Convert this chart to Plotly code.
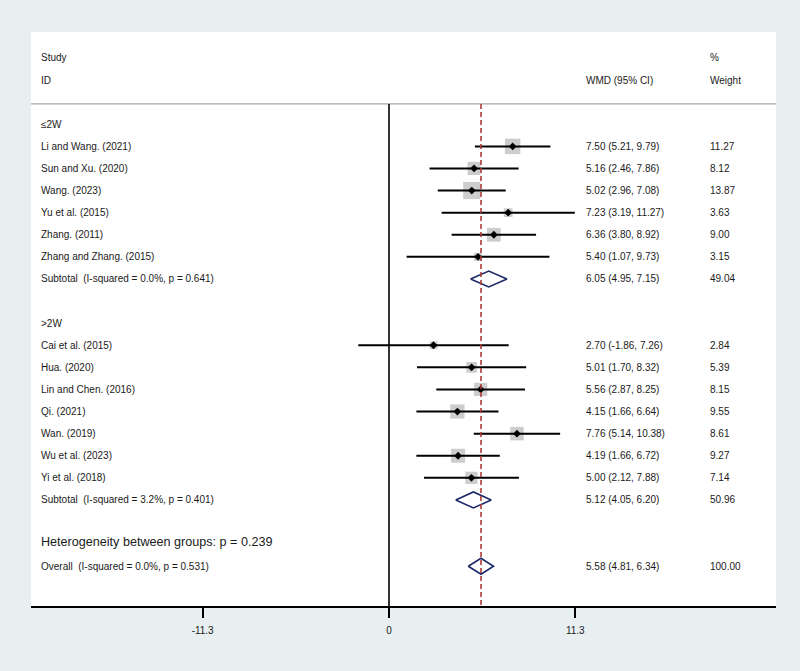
import math
import plotly.graph_objects as go

# ---------------- data ----------------
group1_studies = ["Li and Wang. (2021)", "Sun and Xu. (2020)", "Wang. (2023)", "Yu et al. (2015)",
                  "Zhang. (2011)", "Zhang and Zhang. (2015)"]
group1_est = [7.50, 5.16, 5.02, 7.23, 6.36, 5.40]
group1_lo = [5.21, 2.46, 2.96, 3.19, 3.80, 1.07]
group1_hi = [9.79, 7.86, 7.08, 11.27, 8.92, 9.73]
group1_w = [11.27, 8.12, 13.87, 3.63, 9.00, 3.15]
group1_sub = (6.05, 4.95, 7.15, 49.04)
group1_sub_label = "Subtotal  (I-squared = 0.0%, p = 0.641)"

group2_studies = ["Cai et al. (2015)", "Hua. (2020)", "Lin and Chen. (2016)", "Qi. (2021)",
                  "Wan. (2019)", "Wu et al. (2023)", "Yi et al. (2018)"]
group2_est = [2.70, 5.01, 5.56, 4.15, 7.76, 4.19, 5.00]
group2_lo = [-1.86, 1.70, 2.87, 1.66, 5.14, 1.66, 2.12]
group2_hi = [7.26, 8.32, 8.25, 6.64, 10.38, 6.72, 7.88]
group2_w = [2.84, 5.39, 8.15, 9.55, 8.61, 9.27, 7.14]
group2_sub = (5.12, 4.05, 6.20, 50.96)
group2_sub_label = "Subtotal  (I-squared = 3.2%, p = 0.401)"

overall = (5.58, 4.81, 6.34, 100.00)
overall_label = "Overall  (I-squared = 0.0%, p = 0.531)"
hetero_label = "Heterogeneity between groups: p = 0.239"

group_labels = ["≤2W", ">2W"]
tick_vals = [-11.3, 0, 11.3]
tick_text = ["-11.3", "0", "11.3"]

# ---------------- layout of rows ----------------
rows_text = []   # (row, label, wmd, weight)
study_rows, est, lo, hi, wts = [], [], [], [], []
diamonds = []

r = 3
for gl, names, e, l, h, w, sub, sublab in [
    (group_labels[0], group1_studies, group1_est, group1_lo, group1_hi, group1_w, group1_sub, group1_sub_label),
    (group_labels[1], group2_studies, group2_est, group2_lo, group2_hi, group2_w, group2_sub, group2_sub_label),
]:
    rows_text.append((r, gl, "", ""))
    r += 1
    for n, ee, ll, hh, ww in zip(names, e, l, h, w):
        rows_text.append((r, n, f"{ee:.2f} ({ll:.2f}, {hh:.2f})", f"{ww:.2f}"))
        study_rows.append(r); est.append(ee); lo.append(ll); hi.append(hh); wts.append(ww)
        r += 1
    rows_text.append((r, sublab, f"{sub[0]:.2f} ({sub[1]:.2f}, {sub[2]:.2f})", f"{sub[3]:.2f}"))
    diamonds.append((r, sub))
    r += 2
het_row = r - 0.1
overall_row = r + 1
rows_text.append((overall_row, overall_label,
                  f"{overall[0]:.2f} ({overall[1]:.2f}, {overall[2]:.2f})", f"{overall[3]:.2f}"))
diamonds.append((overall_row, overall))

Y_TOP, Y_BOT = -1.176, 24.8
SEP = 2.08
TXT = "#1a1a1a"
FONT = "Liberation Sans, Arial, Helvetica, sans-serif"

fig = go.Figure()

# weight squares (drawn first, CI line passes over them)
fig.add_trace(go.Scatter(x=est, y=study_rows, mode="markers",
                         marker=dict(symbol="square", size=[4.6 * math.sqrt(w) for w in wts],
                                     color="#b8b8b8", line=dict(width=0)),
                         showlegend=False))

# CI lines
cx, cy = [], []
for rr, ll, hh in zip(study_rows, lo, hi):
    cx += [ll, hh, None]
    cy += [rr, rr, None]
fig.add_trace(go.Scatter(x=cx, y=cy, mode="lines", line=dict(color="black", width=2),
                         hoverinfo="skip", showlegend=False))

# point estimates
fig.add_trace(go.Scatter(x=est, y=study_rows, mode="markers",
                         marker=dict(symbol="diamond", size=6, color="black"),
                         showlegend=False))

# pooled diamonds
dh = 0.36
for rr, (e, l, h, _) in diamonds:
    fig.add_trace(go.Scatter(x=[l, e, h, e, l], y=[rr, rr - dh, rr, rr + dh, rr], mode="lines",
                             line=dict(color="#1c2966", width=1.6), showlegend=False,
                             hoverinfo="skip"))

shapes = [
    dict(type="line", xref="paper", x0=0, x1=1, yref="y", y0=SEP, y1=SEP,
         line=dict(color="#a8a8a8", width=1.2)),
    dict(type="line", xref="x", x0=0, x1=0, yref="y", y0=SEP, y1=Y_BOT,
         line=dict(color="black", width=1.6)),
    dict(type="line", xref="x", x0=overall[0], x1=overall[0], yref="y", y0=SEP, y1=Y_BOT,
         line=dict(color="#b03a3a", width=1.6, dash="5px,3px")),
]

ann = []
def txt(xp, yr, s, size=10):
    ann.append(dict(x=xp, y=yr, xref="paper", yref="y", text=s, showarrow=False,
                    xanchor="left", yanchor="middle", font=dict(family=FONT, size=size, color=TXT)))

X_LAB, X_WMD, X_WT = 0.0107, 0.7419, 0.9087
txt(X_LAB, 0, "Study"); txt(X_LAB, 1, "ID")
txt(X_WMD, 1, "WMD (95% CI)")
txt(X_WT, 0, "%"); txt(X_WT, 1, "Weight")
for rr, lab, wmd, wt in rows_text:
    txt(X_LAB, rr, lab)
    if wmd:
        txt(X_WMD, rr, wmd)
        txt(X_WT, rr, wt)
txt(X_LAB, het_row, hetero_label, size=12.6)

fig.update_layout(
    width=800, height=671,
    margin=dict(l=31, r=24, t=32, b=65),
    paper_bgcolor="#e7eff1", plot_bgcolor="white",
    shapes=shapes, annotations=ann, showlegend=False,
    xaxis=dict(range=[-21.71, 23.47], showgrid=False, zeroline=False, showline=True,
               linecolor="black", linewidth=2, ticks="outside", ticklen=10, tickwidth=2,
               tickcolor="black", tickvals=tick_vals, ticktext=tick_text,
               ticklabelstandoff=4,
               tickfont=dict(family=FONT, size=10, color=TXT), fixedrange=True),
    yaxis=dict(range=[Y_BOT, Y_TOP], visible=False, fixedrange=True),
)

fig.write_html("out.html")
